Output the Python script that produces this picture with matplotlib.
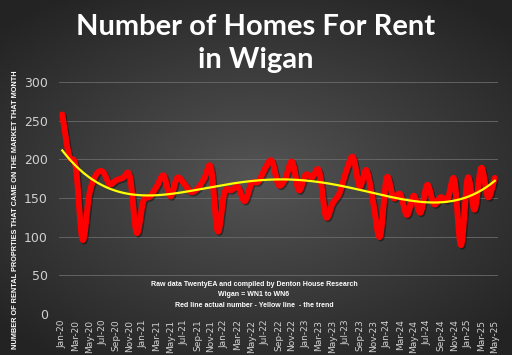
import numpy as np
import matplotlib
matplotlib.use("Agg")
import matplotlib.pyplot as plt
import matplotlib.patheffects as pe

months = ["Jan-20","Feb-20","Mar-20","Apr-20","May-20","Jun-20","Jul-20","Aug-20","Sep-20","Oct-20","Nov-20","Dec-20",
          "Jan-21","Feb-21","Mar-21","Apr-21","May-21","Jun-21","Jul-21","Aug-21","Sep-21","Oct-21","Nov-21","Dec-21",
          "Jan-22","Feb-22","Mar-22","Apr-22","May-22","Jun-22","Jul-22","Aug-22","Sep-22","Oct-22","Nov-22","Dec-22",
          "Jan-23","Feb-23","Mar-23","Apr-23","May-23","Jun-23","Jul-23","Aug-23","Sep-23","Oct-23","Nov-23","Dec-23",
          "Jan-24","Feb-24","Mar-24","Apr-24","May-24","Jun-24","Jul-24","Aug-24","Sep-24","Oct-24","Nov-24","Dec-24",
          "Jan-25","Feb-25","Mar-25","Apr-25","May-25"]
homes = [258, 205, 190, 96, 155, 180, 184, 168, 173, 176, 178, 105,
         146, 152, 165, 179, 152, 176, 169, 158, 162, 175, 189, 107,
         157, 160, 164, 146, 169, 171, 188, 198, 167, 175, 197, 160,
         180, 177, 185, 126, 143, 156, 184, 203, 165, 186, 145, 100,
         176, 150, 155, 128, 153, 131, 167, 142, 151, 148, 174, 89,
         176, 135, 189, 151, 176]
yticks = [0, 50, 100, 150, 200, 250, 300]

title = "Number of Homes For Rent\nin Wigan"
ylabel = "NUMBER OF RENTAL PROPRTIES THAT CAME ON THE MARKET THAT MONTH"
note = "Raw data TwentyEA and compiled by Denton House Research\nWigan = WN1 to WN6\nRed line actual number - Yellow line  - the trend"


def smooth(x, y, n=16):
    x = np.asarray(x, float); y = np.asarray(y, float)
    px = np.concatenate([[2*x[0]-x[1]], x, [2*x[-1]-x[-2]]])
    py = np.concatenate([[2*y[0]-y[1]], y, [2*y[-1]-y[-2]]])
    xs, ys = [], []
    t = np.linspace(0, 1, n, endpoint=False)
    for i in range(1, len(px)-2):
        for arr, a in ((ys, py), (xs, px)):
            a0, a1, a2, a3 = a[i-1], a[i], a[i+1], a[i+2]
            arr.extend(0.5*((2*a1) + (-a0+a2)*t + (2*a0-5*a1+4*a2-a3)*t**2 + (-a0+3*a1-3*a2+a3)*t**3))
    xs.append(x[-1]); ys.append(y[-1])
    return np.array(xs), np.array(ys)


fig = plt.figure(figsize=(5.12, 3.55), dpi=100)

# radial gradient background
bg = fig.add_axes([0, 0, 1, 1], zorder=-10)
gx, gy = np.meshgrid(np.linspace(-1, 1, 512), np.linspace(-1, 1, 355))
r = np.sqrt((gx*1.0)**2 + (gy*1.1)**2)
val = np.clip(0.33 - 0.14*r, 0.14, 0.4)
bg.imshow(np.dstack([val, val, val]), aspect="auto", extent=[0, 1, 0, 1])
bg.axis("off")

ax = fig.add_axes([0.115, 0.1155, 0.858, 0.6535])
ax.set_facecolor("none")
x = np.arange(len(homes))

ax.set_xlim(-0.5, len(homes) - 0.5)
ax.set_ylim(0, 300)
ax.set_yticks(yticks)
ax.set_yticklabels([str(v) for v in yticks])
ax.set_xticks(x[::2])
ax.set_xticklabels(months[::2], rotation=90)
ax.tick_params(axis="y", length=0, labelsize=9, colors="#d0d0d0", pad=8)
ax.tick_params(axis="x", length=0, labelsize=6.5, colors="#d0d0d0", pad=4)
for s in ax.spines.values():
    s.set_visible(False)
ax.grid(axis="y", color="#6a6a6a", linewidth=0.6)
ax.set_axisbelow(True)

sx, sy = smooth(x, homes)
ax.plot(sx, sy, color="#ff0000", linewidth=4.3, solid_capstyle="round", solid_joinstyle="round",
        path_effects=[pe.SimpleLineShadow(offset=(1, -1), shadow_color="black", alpha=0.4), pe.Normal()], zorder=3)

coef = np.polyfit(x, homes, 4)
tx = np.linspace(0, len(homes) - 1, 300)
ax.plot(tx, np.polyval(coef, tx), color="#ffff00", linewidth=1.6, zorder=4)

fig.text(254/512, 1 - 295/355, note, ha="center", va="center", color="white",
         fontsize=5.0, fontweight="bold", linespacing=1.75, family="Liberation Sans")

fig.text(0.03, 0.408, ylabel, rotation=90, ha="center", va="center", color="white",
         fontsize=5.3, fontweight="bold", family="Liberation Sans")

fig.text(0.5, 0.878, title, ha="center", va="center", color="white", fontsize=21,
         fontweight="bold", family="Lato", linespacing=1.33)

fig.savefig("out.png", dpi=100)
